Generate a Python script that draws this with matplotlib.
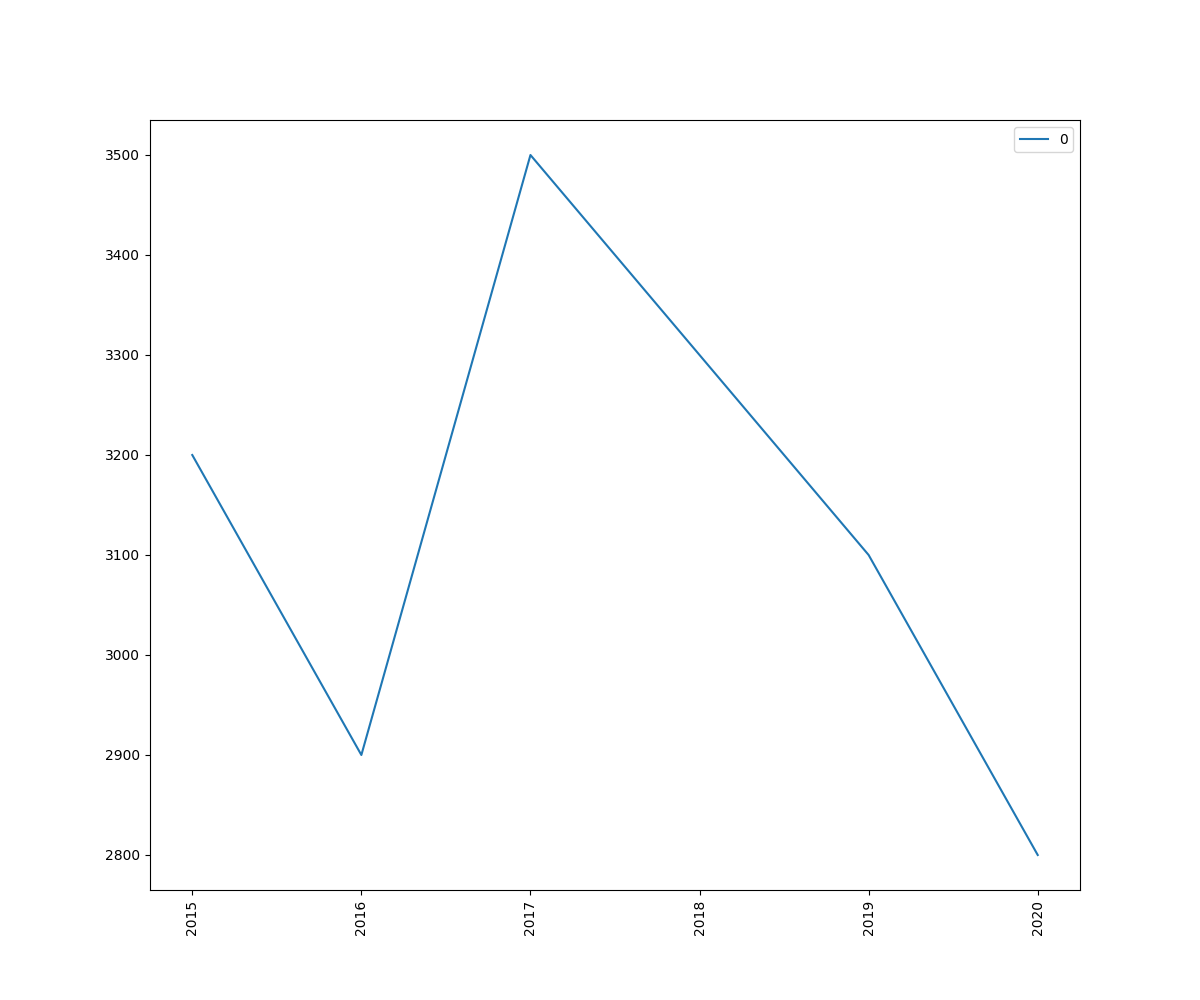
import matplotlib
matplotlib.use("Agg")
import matplotlib.pyplot as plt

years = [2015, 2016, 2017, 2018, 2019, 2020]
values = [3200, 2900, 3500, 3300, 3100, 2800]

fig, ax = plt.subplots(figsize=(12, 10), dpi=100)

ax.plot(years, values, label="0")

ax.set_xticks(years)
ax.set_xticklabels([str(y) for y in years], rotation=90)

ax.legend(loc="upper right")

plt.savefig("out.png", dpi=100)
plt.close()
